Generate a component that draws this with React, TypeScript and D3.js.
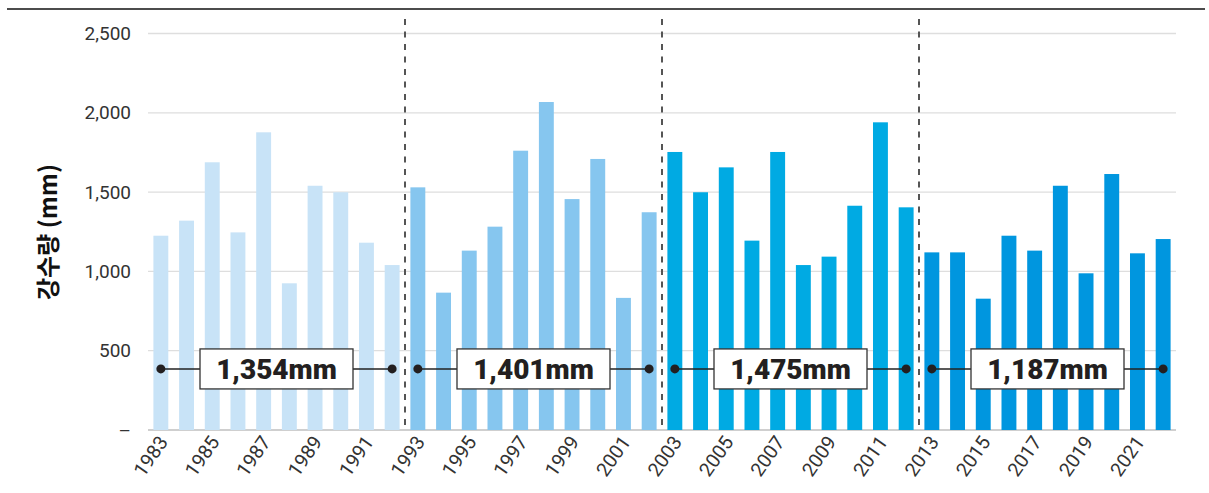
import React from "react";
import * as d3 from "d3";

// Annual precipitation (mm), grouped by decade
const years: number[] = d3.range(1983, 2023);
const period1: number[] = [1225, 1320, 1688, 1246, 1877, 925, 1540, 1499, 1181, 1040];
const period2: number[] = [1530, 866, 1131, 1282, 1761, 2068, 1456, 1709, 833, 1373];
const period3: number[] = [1753, 1499, 1656, 1194, 1753, 1040, 1093, 1414, 1940, 1404];
const period4: number[] = [1120, 1120, 828, 1225, 1131, 1540, 988, 1614, 1114, 1204];
const periodAverages: number[] = [1354, 1401, 1475, 1187];
const periodColors: string[] = ["#c8e3f7", "#86c6ef", "#00aae3", "#0096df"];
const yTicks: number[] = [0, 500, 1000, 1500, 2000, 2500];
const labelYears: number[] = d3.range(1983, 2023, 2);
const yTitle = "강수량 (mm)";

const W = 1209;
const H = 493;
const margin = { left: 148, right: 33, top: 33.5, bottom: 63 };
const avgLevel = 385; // vertical placement of the average callouts (mm)

export default function App() {
  const periods = [period1, period2, period3, period4];
  const values = periods.flat();
  const data = years.map((year, i) => ({
    year,
    value: values[i],
    period: Math.floor(i / 10),
  }));

  const x = d3
    .scaleBand<number>()
    .domain(years)
    .range([margin.left, W - margin.right])
    .paddingInner(0.42)
    .paddingOuter(0.21);
  const y = d3
    .scaleLinear()
    .domain([0, 2500])
    .range([H - margin.bottom, margin.top]);

  const fmt = d3.format(",");
  const step = x.step();
  const bw = x.bandwidth();
  const cx = (yr: number) => (x(yr) as number) + bw / 2;
  const y0 = y(0);
  const font = "'Noto Sans CJK KR', 'Noto Sans', sans-serif";
  const tickFont = "Roboto, 'Noto Sans', sans-serif";

  return (
    <svg width={W} height={H} style={{ position: "absolute", left: 0, top: 0 }}>
      <rect width={W} height={H} fill="#fff" />
      <line x1={7} x2={1205} y1={9} y2={9} stroke="#111" strokeWidth={1.5} />

      {/* grid */}
      {yTicks.map((t) => (
        <g key={t}>
          <line
            x1={margin.left}
            x2={W - margin.right}
            y1={y(t)}
            y2={y(t)}
            stroke={t === 0 ? "#cfcfcf" : "#dedede"}
            strokeWidth={t === 0 ? 2 : 1.3}
          />
          <text
            x={131}
            y={y(t)}
            dy="0.35em"
            textAnchor="end"
            fontFamily={tickFont}
            fontWeight={400}
            fontSize={19}
            fill="#333"
          >
            {t === 0 ? "–" : fmt(t)}
          </text>
        </g>
      ))}

      {/* bars */}
      {data.map((d) => (
        <rect
          key={d.year}
          x={x(d.year)}
          y={y(d.value)}
          width={bw}
          height={y0 - y(d.value)}
          fill={periodColors[d.period]}
        />
      ))}

      {/* decade dividers */}
      {[1, 2, 3].map((k) => {
        const xd = (x(years[k * 10]) as number) - (step - bw) / 2;
        return (
          <line
            key={k}
            x1={xd}
            x2={xd}
            y1={19}
            y2={y0}
            stroke="#555"
            strokeWidth={2}
            strokeDasharray="6,6.5"
          />
        );
      })}

      {/* period averages */}
      {periodAverages.map((avg, k) => {
        const xa = cx(years[k * 10]);
        const xb = cx(years[k * 10 + 9]);
        const mid = (xa + xb) / 2;
        const yy = y(avgLevel);
        const bwBox = 153;
        const bhBox = 40;
        return (
          <g key={k}>
            <line x1={xa} x2={xb} y1={yy} y2={yy} stroke="#222" strokeWidth={1.5} />
            <circle cx={xa} cy={yy} r={4.5} fill="#231f20" />
            <circle cx={xb} cy={yy} r={4.5} fill="#231f20" />
            <rect
              x={mid - bwBox / 2}
              y={yy - bhBox / 2}
              width={bwBox}
              height={bhBox}
              fill="#fff"
              stroke="#333"
              strokeWidth={1.3}
            />
            <text
              x={mid}
              y={yy}
              dy="0.36em"
              textAnchor="middle"
              fontFamily="Roboto, sans-serif"
              fontWeight={900}
              fontSize={28}
              fill="#231f20"
            >
              {fmt(avg)}mm
            </text>
          </g>
        );
      })}

      {/* x labels */}
      {labelYears.map((yr) => (
        <text
          key={yr}
          transform={`translate(${cx(yr) + 8},${y0 + 12}) rotate(-55)`}
          textAnchor="end"
          fontFamily={tickFont}
          fontWeight={400}
          fontSize={19.5}
          fill="#333"
        >
          {yr}
        </text>
      ))}

      {/* y title */}
      <text
        transform="translate(48.5,232) rotate(-90)"
        textAnchor="middle"
        dy="0.35em"
        fontFamily={font}
        fontWeight={700}
        fontSize={24}
        fill="#111"
      >
        {yTitle}
      </text>
    </svg>
  );
}
